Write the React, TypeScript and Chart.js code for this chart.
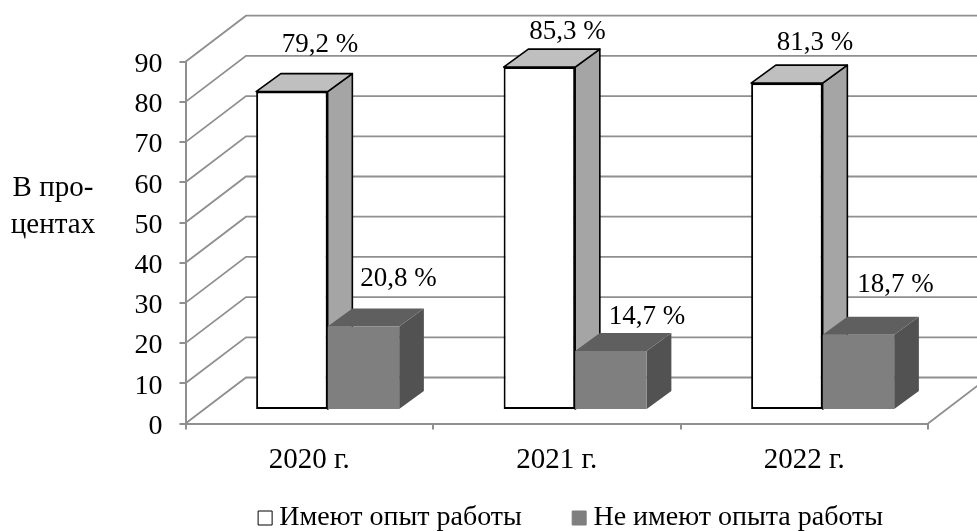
import React, { useEffect, useRef } from "react";
import { Chart, registerables } from "chart.js";

Chart.register(...registerables);

const categories = ["2020 г.", "2021 г.", "2022 г."];
const experienced = [79.2, 85.3, 81.3];
const inexperienced = [20.8, 14.7, 18.7];
const seriesNames = ["Имеют опыт работы", "Не имеют опыта работы"];
const axisCaption = ["В про-", "центах"];

// hand-placed offsets of the value labels, relative to each bar's front top centre
const labelNudgeX = [[28, 28, 28], [35, 36, 37]];
const labelNudgeY = [[47, 35, 40], [47, 34, 50]];

const FONT = "'Liberation Serif', 'Times New Roman', serif";
const GRID = "#8f8f8f";
const WALL = { dx: 60.5, dy: 46 };
const SHIFT = { dx: 18.4, dy: 13.5 };
const DEPTH = { dx: 24.7, dy: 18 };
const LEGEND_SHIFT = { x: 75.5, y: 11 };
const faces = [
  { top: "#bfbfbf", side: "#a5a5a5", stroke: "#000000", lw: 1.6 },
  { top: "#5f5f5f", side: "#525252", stroke: "", lw: 0 },
];

const poly = (ctx: CanvasRenderingContext2D, pts: number[][], fill: string, stroke: string, lw: number) => {
  ctx.beginPath();
  pts.forEach((p, i) => (i ? ctx.lineTo(p[0], p[1]) : ctx.moveTo(p[0], p[1])));
  ctx.closePath();
  ctx.fillStyle = fill;
  ctx.fill();
  if (stroke) {
    ctx.strokeStyle = stroke;
    ctx.lineWidth = lw;
    ctx.lineJoin = "round";
    ctx.stroke();
  }
};

const box3d = {
  id: "box3d",
  afterLayout(chart: any) {
    chart.legend.left += LEGEND_SHIFT.x;
    chart.legend.right += LEGEND_SHIFT.x;
    chart.legend.top += LEGEND_SHIFT.y;
    chart.legend.bottom += LEGEND_SHIFT.y;
  },
  beforeDatasetsDraw(chart: any) {
    const { ctx, scales, chartArea } = chart;
    const y = scales.y;
    const left = chartArea.left;
    ctx.save();
    ctx.strokeStyle = GRID;
    ctx.lineWidth = 1.8;
    y.ticks.forEach((t: any) => {
      const py = y.getPixelForValue(t.value);
      ctx.beginPath();
      ctx.moveTo(left, py);
      ctx.lineTo(left + WALL.dx, py - WALL.dy);
      ctx.lineTo(chartArea.right + WALL.dx, py - WALL.dy);
      ctx.stroke();
    });
    // floor's right edge
    ctx.beginPath();
    ctx.moveTo(chartArea.right, chartArea.bottom);
    ctx.lineTo(chartArea.right + WALL.dx, chartArea.bottom - WALL.dy);
    ctx.stroke();
    // depth faces of every bar, series by series, behind all front faces
    ctx.translate(SHIFT.dx, -SHIFT.dy);
    faces.forEach((f, di) => {
      chart.getDatasetMeta(di).data.forEach((bar: any) => {
        const p = bar.getProps(["x", "y", "base", "width"], true);
        const l = p.x - p.width / 2;
        const r = p.x + p.width / 2;
        poly(ctx, [[r, p.y], [r + DEPTH.dx, p.y - DEPTH.dy], [r + DEPTH.dx, p.base - DEPTH.dy], [r, p.base]], f.side, f.stroke, f.lw);
        poly(ctx, [[l, p.y], [l + DEPTH.dx, p.y - DEPTH.dy], [r + DEPTH.dx, p.y - DEPTH.dy], [r, p.y]], f.top, f.stroke, f.lw);
      });
    });
    ctx.restore();
  },
  beforeDatasetDraw(chart: any) {
    chart.ctx.save();
    chart.ctx.translate(SHIFT.dx, -SHIFT.dy);
  },
  afterDatasetDraw(chart: any) {
    chart.ctx.restore();
  },
  afterDatasetsDraw(chart: any) {
    const { ctx } = chart;
    ctx.save();
    ctx.fillStyle = "#000";
    ctx.font = `27px ${FONT}`;
    ctx.textAlign = "center";
    ctx.textBaseline = "middle";
    chart.data.datasets.forEach((ds: any, di: number) => {
      chart.getDatasetMeta(di).data.forEach((bar: any, i: number) => {
        const text = `${String(ds.data[i]).replace(".", ",")} %`;
        ctx.fillText(text, bar.x + SHIFT.dx + labelNudgeX[di][i], bar.y - SHIFT.dy - labelNudgeY[di][i]);
      });
    });
    ctx.font = `29px ${FONT}`;
    axisCaption.forEach((line, i) => ctx.fillText(line, 53, 188 + i * 37));
    ctx.restore();
  },
};

export default function App() {
  const ref = useRef<HTMLCanvasElement>(null);
  useEffect(() => {
    const chart = new Chart(ref.current!, {
      type: "bar",
      data: {
        labels: categories,
        datasets: [
          {
            label: seriesNames[0],
            data: experienced,
            backgroundColor: "#ffffff",
            borderColor: "#000000",
            borderWidth: 2,
            borderSkipped: false,
            clip: false,
          },
          {
            label: seriesNames[1],
            data: inexperienced,
            backgroundColor: "#7f7f7f",
            borderWidth: 0,
            clip: false,
          },
        ] as any,
      },
      options: {
        responsive: false,
        animation: false,
        events: [],
        layout: { padding: { left: 69, right: 49, top: 61.7, bottom: 0 } },
        datasets: { bar: { categoryPercentage: 0.578, barPercentage: 1 } },
        scales: {
          x: {
            afterFit(s: any) {
              s.height = 531 - 423.5 - (s.chart.legend?.height ?? 30);
            },
            border: { color: GRID, width: 2 },
            grid: { drawOnChartArea: false, drawTicks: true, tickLength: 6, color: GRID, lineWidth: 2 },
            ticks: { color: "#000", padding: 13, font: { family: FONT, size: 29 } },
          },
          y: {
            min: 0,
            max: 90,
            afterFit(s: any) {
              s.width = 116.5;
            },
            border: { color: GRID, width: 2 },
            grid: { drawOnChartArea: false, drawTicks: true, tickLength: 6, color: GRID, lineWidth: 2 },
            ticks: { stepSize: 10, color: "#000", padding: 17, labelOffset: 3, font: { family: FONT, size: 28 } },
          },
        },
        plugins: {
          tooltip: { enabled: false },
          legend: {
            position: "bottom",
            labels: {
              color: "#000",
              font: { family: FONT, size: 28 },
              padding: 1,
              usePointStyle: true,
              pointStyle: "rect",
              boxWidth: 0.5,
              boxHeight: 14,
              generateLabels: (c: any) =>
                c.data.datasets.map((ds: any, i: number) => ({
                  text: i === 0 ? ds.label + "\u00a0".repeat(8) : ds.label,
                  fillStyle: ds.backgroundColor,
                  strokeStyle: i === 0 ? "#000000" : "#7f7f7f",
                  lineWidth: 1,
                  pointStyle: "rect",
                  datasetIndex: i,
                })),
            },
          },
        },
      } as any,
      plugins: [box3d],
    });
    return () => chart.destroy();
  }, []);
  return (
    <div style={{ position: "fixed", left: 0, top: 0, width: 977, height: 531, background: "#fff" }}>
      <canvas ref={ref} width={977} height={531} style={{ display: "block" }} />
    </div>
  );
}
